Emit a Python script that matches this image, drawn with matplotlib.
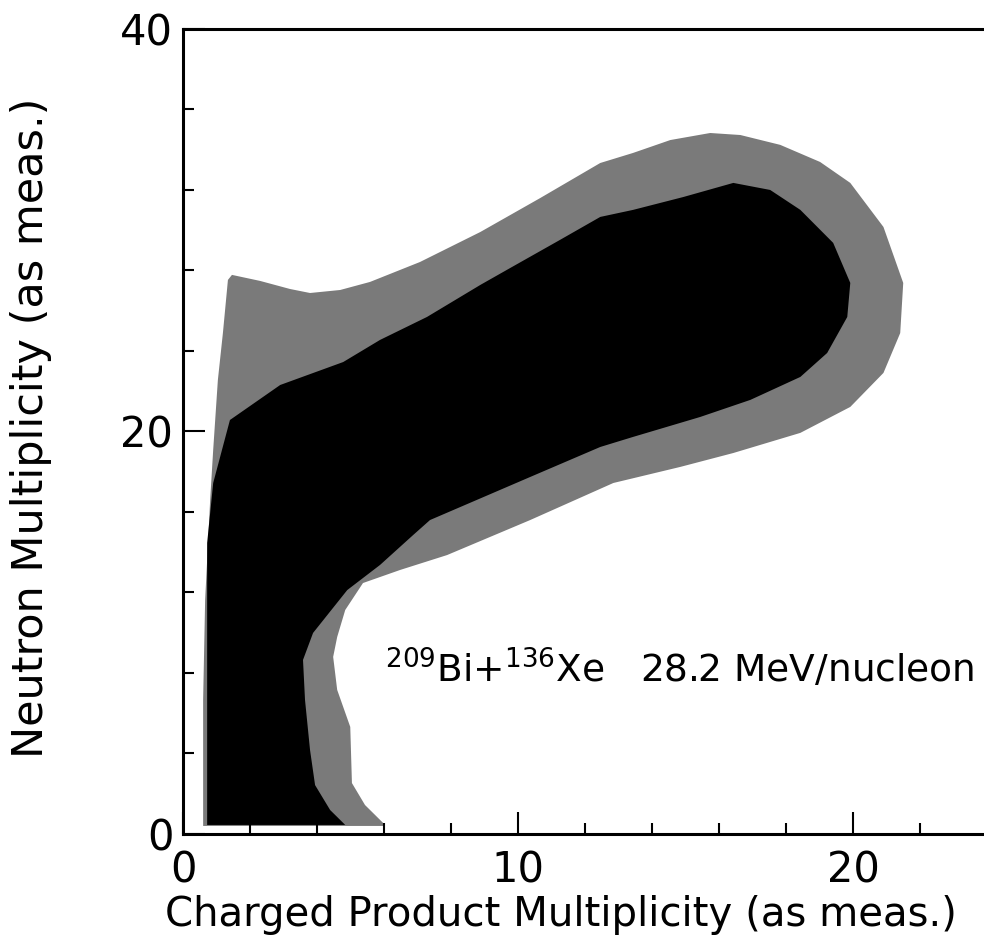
import matplotlib
matplotlib.use("Agg")
import numpy as np
import matplotlib.pyplot as plt
from matplotlib.ticker import MultipleLocator

# contour outlines (charged multiplicity, neutron multiplicity)
outer_x = [0.60, 0.60, 0.66, 0.81, 0.90, 1.04, 1.19, 1.34, 1.46, 2.30, 3.19, 3.79,
           4.69, 5.58, 7.07, 8.87, 10.66, 12.45, 13.43, 14.54, 15.73, 16.63, 17.82,
           19.01, 19.91, 20.90, 21.49, 21.40, 20.90, 19.91, 18.42, 16.42, 14.84,
           12.84, 10.36, 7.88, 6.48, 5.37, 4.84, 4.60, 4.48, 4.60, 4.99, 5.04,
           5.43, 5.97, 6.03]
outer_y = [0.40, 6.66, 11.63, 16.60, 19.08, 22.56, 24.89, 27.53, 27.78, 27.48, 27.08,
           26.88, 27.03, 27.43, 28.42, 29.91, 31.60, 33.34, 33.84, 34.48, 34.83, 34.73,
           34.24, 33.39, 32.35, 30.16, 27.38, 24.89, 22.91, 21.22, 19.93, 18.93, 18.24,
           17.44, 15.60, 13.86, 13.12, 12.47, 11.13, 9.79, 8.80, 7.16, 5.32, 2.53,
           1.44, 0.55, 0.40]

inner_x = [0.72, 0.72, 0.90, 1.40, 2.90, 4.78, 5.88, 7.28, 8.87, 9.76, 11.25, 12.45,
           13.43, 14.93, 16.42, 17.52, 18.42, 19.40, 19.91, 19.82, 19.22, 18.42,
           16.93, 15.43, 13.43, 12.45, 10.36, 7.37, 6.87, 5.88, 4.90, 3.88, 3.58,
           3.64, 3.79, 3.94, 4.39, 4.84]
inner_y = [0.45, 14.46, 17.44, 20.57, 22.31, 23.45, 24.55, 25.69, 27.28, 28.12, 29.52,
           30.66, 31.01, 31.65, 32.35, 32.00, 31.01, 29.37, 27.38, 25.69, 23.90, 22.71,
           21.57, 20.72, 19.73, 19.23, 17.74, 15.60, 14.86, 13.37, 12.12, 9.99, 8.65,
           6.66, 4.17, 2.43, 1.19, 0.45]

fig = plt.figure(figsize=(9.84, 9.46), dpi=100)
ax = fig.add_axes([0.186, 0.1184, 0.814, 0.851])

ax.fill(outer_x, outer_y, color="#7a7a7a", lw=0)
ax.fill(inner_x, inner_y, color="black", lw=0)

ax.set_xlim(0, 23.9)
ax.set_ylim(0, 40)
ax.spines["right"].set_visible(False)
for s in ("left", "bottom", "top"):
    ax.spines[s].set_linewidth(2.2)

ax.xaxis.set_major_locator(MultipleLocator(10))
ax.xaxis.set_minor_locator(MultipleLocator(2))
ax.yaxis.set_major_locator(MultipleLocator(20))
ax.yaxis.set_minor_locator(MultipleLocator(4))
ax.tick_params(which="both", direction="in", top=False, right=False, width=1.5,
               labelsize=30)
ax.tick_params(axis="x", which="both", pad=11)
ax.tick_params(axis="y", which="both", pad=7)
ax.tick_params(which="major", length=16)
ax.tick_params(which="minor", length=8)

ax.set_xlabel("Charged Product Multiplicity (as meas.)", fontsize=29)
ax.set_ylabel("Neutron Multiplicity (as meas.)", fontsize=31)
ax.xaxis.set_label_coords(0.472, -0.076)
ax.yaxis.set_label_coords(-0.163, 0.505)

ax.text(6.03, 7.5, r"$^{209}$Bi+$^{136}$Xe   28.2 MeV/nucleon", fontsize=27,
        ha="left", va="baseline")

fig.savefig("out.png", dpi=100)
